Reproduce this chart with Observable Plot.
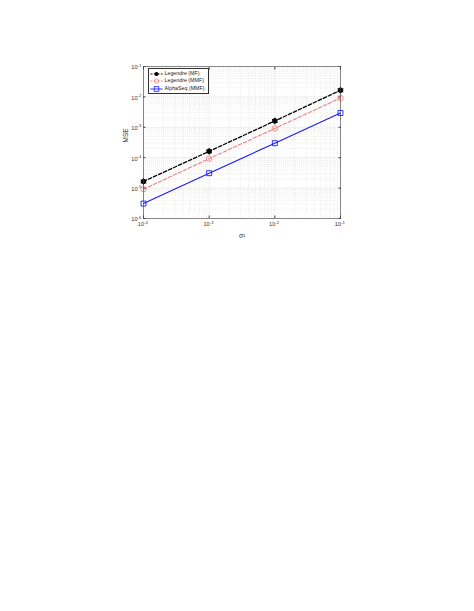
<!DOCTYPE html>
<html><head><meta charset="utf-8">
<script src="https://cdn.jsdelivr.net/npm/d3@7"></script>
<script src="https://cdn.jsdelivr.net/npm/@observablehq/plot@0.6"></script>
<style>
html,body{margin:0;padding:0;background:#fff;}
#wrap{position:relative;width:474px;height:611px;font-family:"Liberation Sans",Arial,sans-serif;}
#legend{position:absolute;left:148px;top:68px;background:#fff;border:0.6px solid #333;font-size:5.3px;color:#222;padding:0.5px 3px 0.5px 1px;}
#legend div{height:7.8px;line-height:7.8px;white-space:nowrap;}
#legend svg{vertical-align:middle;margin-right:1.5px;}
</style></head>
<body><div id="wrap"><div id="chart"></div><div id="legend"></div></div>
<script>
const sigma2 = [1e-4, 1e-3, 1e-2, 1e-1];
const legendreMF = [1.65e-5, 1.62e-4, 1.62e-3, 1.65e-2];
const legendreMMF = [9.2e-6, 9.3e-5, 9.2e-4, 9.2e-3];
const alphaSeqMMF = [3.1e-6, 3.1e-5, 3.0e-4, 2.95e-3];
const seriesNames = ["Legendre (MF)", "Legendre (MMF)", "AlphaSeq (MMF)"];
const xTicks = [1e-4, 1e-3, 1e-2, 1e-1];
const xTickExp = ["-4", "-3", "-2", "-1"];
const yTicks = [1e-6, 1e-5, 1e-4, 1e-3, 1e-2, 1e-1];
const yTickExp = ["-6", "-5", "-4", "-3", "-2", "-1"];

const colors = ["#000000", "#f07f7f", "#1a1aff"];
const rows = [];
[legendreMF, legendreMMF, alphaSeqMMF].forEach((vals, i) =>
  vals.forEach((v, j) => rows.push({s: seriesNames[i], x: sigma2[j], y: v})));

function minors(majors) {
  const out = [];
  for (let k = 0; k < majors.length - 1; k++)
    for (let m = 2; m <= 9; m++) out.push(majors[k] * m);
  return out;
}
const xMinor = minors(xTicks), yMinor = minors(yTicks);
const blank = () => "";
const tickColor = "#333";
const plot = Plot.plot({
  width: 474, height: 611,
  marginLeft: 143, marginRight: 134, marginTop: 66, marginBottom: 393,
  style: {fontFamily: "Liberation Sans, Arial, sans-serif", fontSize: "6px", color: "#333", background: "#fff"},
  x: {type: "log", domain: [1e-4, 1e-1]},
  y: {type: "log", domain: [1e-6, 1e-1]},
  marks: [
    Plot.ruleX(xMinor, {stroke: "#ddd", strokeWidth: 0.5, strokeDasharray: "1,1"}),
    Plot.ruleY(yMinor, {stroke: "#ddd", strokeWidth: 0.5, strokeDasharray: "1,1"}),
    Plot.ruleX(xTicks, {stroke: "#e2e2e2", strokeWidth: 0.6}),
    Plot.ruleY(yTicks, {stroke: "#e2e2e2", strokeWidth: 0.6}),
    Plot.line(rows.filter(d => d.s === seriesNames[0]), {x: "x", y: "y", stroke: colors[0], strokeWidth: 1.3, strokeDasharray: "3.5,2"}),
    Plot.line(rows.filter(d => d.s === seriesNames[1]), {x: "x", y: "y", stroke: colors[1], strokeWidth: 1.1, strokeDasharray: "3.5,2"}),
    Plot.line(rows.filter(d => d.s === seriesNames[2]), {x: "x", y: "y", stroke: colors[2], strokeWidth: 1.1}),
    Plot.dot(rows.filter(d => d.s === seriesNames[0]), {x: "x", y: "y", r: 2.4, fill: colors[0], stroke: colors[0], strokeWidth: 0.8, symbol: "circle"}),
    Plot.dot(rows.filter(d => d.s === seriesNames[0]), {x: "x", y: "y", r: 3.1, stroke: colors[0], strokeWidth: 0.9, symbol: "asterisk"}),
    Plot.dot(rows.filter(d => d.s === seriesNames[1]), {x: "x", y: "y", r: 2.7, fill: "none", stroke: colors[1], strokeWidth: 0.9, symbol: "circle"}),
    Plot.dot(rows.filter(d => d.s === seriesNames[2]), {x: "x", y: "y", r: 2.8, fill: "none", stroke: colors[2], strokeWidth: 0.9, symbol: "square"}),
    Plot.frame({stroke: "#444", strokeWidth: 0.6}),
    Plot.axisX(xTicks, {anchor: "bottom", tickSize: -2.5, tickFormat: blank, stroke: "#444", label: null}),
    Plot.axisX(xTicks, {anchor: "top", tickSize: -2.5, tickFormat: blank, stroke: "#444", label: null}),
    Plot.axisY(yTicks, {anchor: "left", tickSize: -2.5, tickFormat: blank, stroke: "#444", label: null}),
    Plot.axisY(yTicks, {anchor: "right", tickSize: -2.5, tickFormat: blank, stroke: "#444", label: null}),
    Plot.text(xTicks, {x: d => d, frameAnchor: "bottom", text: () => "10", textAnchor: "end", dx: 0.5, dy: 7.5, fontSize: 5.6, fill: tickColor}),
    Plot.text(xTicks, {x: d => d, frameAnchor: "bottom", text: (d, i) => xTickExp[i], textAnchor: "start", dx: 0.6, dy: 5, fontSize: 4.2, fill: tickColor}),
    Plot.text(yTicks, {y: d => d, frameAnchor: "left", text: () => "10", textAnchor: "end", dx: -6, dy: 1.2, fontSize: 5.6, fill: tickColor}),
    Plot.text(yTicks, {y: d => d, frameAnchor: "left", text: (d, i) => yTickExp[i], textAnchor: "start", dx: -5.9, dy: -1.3, fontSize: 4.2, fill: tickColor}),
    Plot.text(["σ²"], {frameAnchor: "bottom", dy: 19, fontSize: 6.5, fill: "#333"}),
    Plot.text(["MSE"], {frameAnchor: "left", dx: -18, rotate: -90, fontSize: 6.5, fill: "#333"})
  ]
});
document.getElementById("chart").appendChild(plot);

const lg = document.getElementById("legend");
const items = [
  {c: colors[0], dash: "2.5,1.5", sym: "star"},
  {c: colors[1], dash: "2.5,1.5", sym: "circle"},
  {c: colors[2], dash: null, sym: "square"}
];
items.forEach((it, i) => {
  const div = document.createElement("div");
  let marker = "";
  if (it.sym === "star") marker = `<circle cx="6.5" cy="4" r="2.1" fill="${it.c}"/>`;
  else if (it.sym === "circle") marker = `<circle cx="6.5" cy="4" r="2.2" fill="none" stroke="${it.c}" stroke-width="0.8"/>`;
  else marker = `<rect x="4.2" y="1.7" width="4.6" height="4.6" fill="none" stroke="${it.c}" stroke-width="0.8"/>`;
  div.innerHTML = `<svg width="13" height="8"><line x1="0.3" x2="12.7" y1="4" y2="4" stroke="${it.c}" stroke-width="0.9" ${it.dash ? `stroke-dasharray="2.2,1.3"` : ""}/>${marker}</svg>${seriesNames[i]}`;
  lg.appendChild(div);
});
</script></body></html>
